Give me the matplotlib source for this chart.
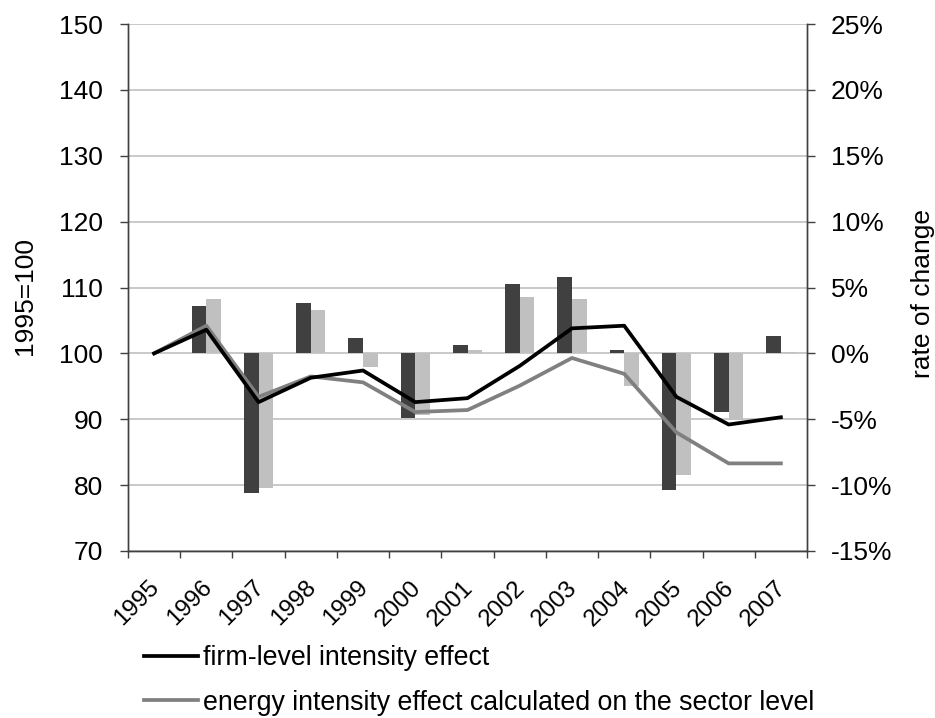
import matplotlib
matplotlib.use("Agg")
import matplotlib.pyplot as plt
import matplotlib.transforms as mtransforms
import numpy as np

plt.rcParams['font.family'] = ['Liberation Sans', 'DejaVu Sans']

years = ['1995', '1996', '1997', '1998', '1999', '2000', '2001',
         '2002', '2003', '2004', '2005', '2006', '2007']

# index values (left axis, 1995=100)
firm_index = [100.0, 103.6, 92.6, 96.3, 97.4, 92.6, 93.2,
              98.1, 103.8, 104.2, 93.4, 89.2, 90.3]
sector_index = [100.0, 104.2, 93.4, 96.5, 95.6, 91.1, 91.4,
                95.1, 99.3, 96.9, 88.0, 83.3, 83.3]

# rates of change (right axis, %)
firm_rate = [0.0, 3.56, -10.56, 3.84, 1.16, -4.90, 0.63,
             5.28, 5.81, 0.23, -10.40, -4.47, 1.29]
sector_rate = [0.0, 4.14, -10.25, 3.33, -1.06, -4.67, 0.25,
               4.27, 4.14, -2.48, -9.22, -5.05, 0.08]

left_ticks = [70, 80, 90, 100, 110, 120, 130, 140, 150]
right_ticks = [-15, -10, -5, 0, 5, 10, 15, 20, 25]

FS = 19
FS_X = 17.4
FS_LEG = 19.3
spine_col = '#404040'

fig = plt.figure(figsize=(9.35, 7.18), dpi=100)
ax = fig.add_axes([128/935, 1-551/718, (807-128)/935, (551-24)/718])
ax2 = ax.twinx()

x = np.arange(len(years))
n = len(years)

# gridlines
ax.set_ylim(70, 150)
ax.set_xlim(-0.5, n - 0.5)
ax.set_yticks(left_ticks)
ax.yaxis.grid(True, color='#c0c0c0', linewidth=1.2)
ax.set_axisbelow(True)

# bars on right axis
ax2.set_ylim(-15, 25)
bw = 0.28
ax2.bar(x - bw/2, firm_rate, width=bw, color='#404040', zorder=2)
ax2.bar(x + bw/2, sector_rate, width=bw, color='#c0c0c0', zorder=2)

# lines drawn on the right axes so they sit on top, converted from left-axis units
to_right = lambda v: [(vv - 100) * 0.5 for vv in v]
l1, = ax2.plot(x, to_right(firm_index), color='black', linewidth=2.7, zorder=4)
l2, = ax2.plot(x, to_right(sector_index), color='#808080', linewidth=2.7, zorder=3)

ax2.set_yticks(right_ticks)
ax2.set_yticklabels([f'{t}%' for t in right_ticks])

for a in (ax, ax2):
    a.spines['top'].set_visible(False)
    for s in ('left', 'right', 'bottom'):
        a.spines[s].set_color(spine_col)
        a.spines[s].set_linewidth(1.0)

ax.tick_params(axis='y', which='major', direction='out', length=6, width=1,
               color=spine_col, labelsize=FS, pad=12)
ax2.tick_params(axis='y', which='major', direction='out', length=6, width=1,
                color=spine_col, labelsize=FS, pad=11)

# x ticks at category boundaries, labels at centers
ax.set_xticks(np.arange(-0.5, n, 1.0))
ax.set_xticklabels([])
ax.tick_params(axis='x', which='major', direction='out', length=5, width=1,
               color=spine_col)
ax.set_xticks(x, minor=True)
ax.set_xticklabels(years, minor=True, rotation=45, ha='right', va='center',
                   rotation_mode='anchor', fontsize=FS_X)
ax.tick_params(axis='x', which='minor', length=0, pad=24)
offset = mtransforms.ScaledTranslation(2/100, 0, fig.dpi_scale_trans)
for lbl in ax.get_xticklabels(minor=True):
    lbl.set_transform(lbl.get_transform() + offset)

fig.text(25/935, 1-296/718, '1995=100', rotation=90, ha='center', va='center',
         fontsize=FS)
fig.text(923/935, 1-293/718, 'rate of change', rotation=90, ha='center',
         va='center', fontsize=FS)

fig.legend([l1, l2], ['firm-level intensity effect',
                      'energy intensity effect calculated on the sector level'],
           loc='upper left', bbox_to_anchor=(144/935, 1-645/718), frameon=False,
           fontsize=FS_LEG, handlelength=2.0, handletextpad=0.2, labelspacing=0.7,
           borderaxespad=0, borderpad=0)

fig.savefig('out.png', dpi=100)
